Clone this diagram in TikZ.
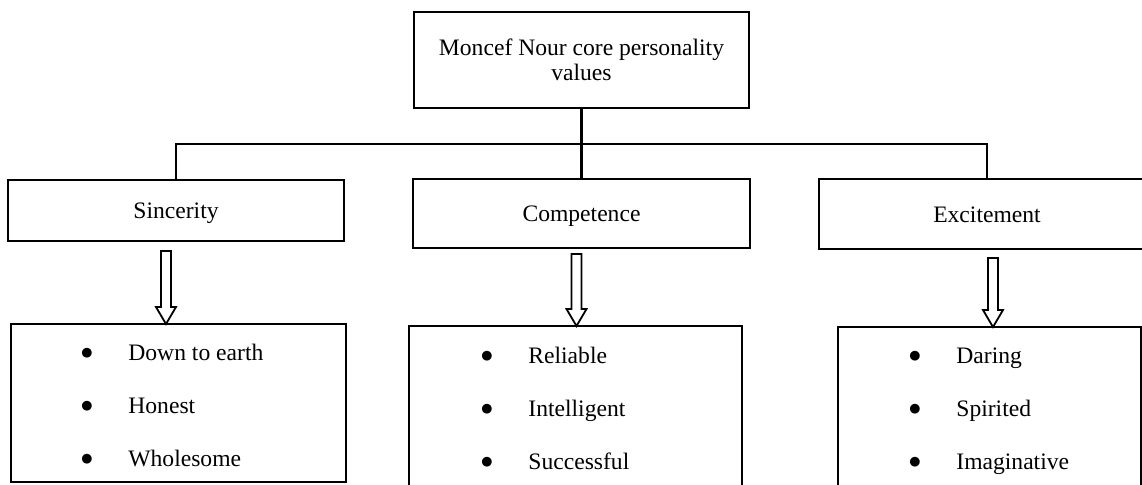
\documentclass[tikz,border=0pt]{standalone}
\usepackage{fontspec}
\setmainfont{Liberation Serif}
\newfontfamily\symfont{DejaVu Sans}
\usetikzlibrary{calc}
\newcommand\blockarrow[2]{%
  \draw[blockarr] ($(#1)+(-5,0)$) -- ($(#2)+(-5,-17)$) -- ($(#2)+(-10,-17)$)
    -- (#2) -- ($(#2)+(10,-17)$) -- ($(#2)+(5,-17)$) -- ($(#1)+(5,0)$) -- cycle;}
\newcommand\listdot{\raisebox{1.6pt}{\symfont\fontsize{6.4}{7}\selectfont ●}}
\newcommand\bulletlist[3]{%
  \begin{tabular}[t]{@{}p{23.5pt}@{}l@{}}
    \listdot & #1\\[14pt]
    \listdot & #2\\[14pt]
    \listdot & #3
  \end{tabular}}
\begin{document}
\begin{tikzpicture}[x=0.5pt,y=-0.5pt,
  txt/.style={font=\fontsize{11.8}{12.5}\selectfont},
  box/.style={draw, line width=1.1pt, inner sep=0pt, outer sep=0pt, align=center, txt},
  link/.style={line width=1.1pt},
  blockarr/.style={draw, line width=0.9pt, fill=white, line join=miter},
  itemlist/.style={anchor=base west, inner sep=0pt, txt},
  label/.style={anchor=base, inner sep=0pt, txt}]
\clip (0,0) rectangle (1142,484);

% root
\node[box, minimum width=167.5pt, minimum height=48pt] (root) at (581.5,60)
  {Moncef Nour core personality\\values};

% dimensions
\node[box, minimum width=168pt, minimum height=30.5pt] (sinc) at (176,210.5) {};
\node[box, minimum width=168.5pt, minimum height=34.5pt] (comp) at (581.5,213.5) {};
\node[box, minimum width=168pt, minimum height=35pt] (exc) at (987,214) {};
\node[label] (sincT) at (176,218) {Sincerity};
\node[label] (compT) at (581.5,221) {Competence};
\node[label] (excT) at (987,222) {Excitement};

% trait boxes
\node[box, minimum width=167.5pt, minimum height=79pt] (traitsA) at (178.5,403) {};
\node[box, minimum width=166.5pt, minimum height=82pt] (traitsB) at (575.5,408) {};
\node[box, minimum width=151.5pt, minimum height=81.5pt] (traitsC) at (989.5,408.5) {};

\node[itemlist] (listA) at (81,360) {\bulletlist{Down to earth}{Honest}{Wholesome}};
\node[itemlist] (listB) at (481,363) {\bulletlist{Reliable}{Intelligent}{Successful}};
\node[itemlist] (listC) at (909,363) {\bulletlist{Daring}{Spirited}{Imaginative}};

% tree connectors
\coordinate (bus) at (581.5,144);
\draw[link] (root.south) -- (comp.north);
\draw[link] (sinc.north) |- (bus) -| (exc.north);

% block arrows
\coordinate (a1) at (166,251);
\coordinate (a2) at (576.5,254);
\coordinate (a3) at (993,258);
\coordinate (p1) at (a1 |- traitsA.north);
\coordinate (p2) at (a2 |- traitsB.north);
\coordinate (p3) at (a3 |- traitsC.north);
\blockarrow{a1}{p1}
\blockarrow{a2}{p2}
\blockarrow{a3}{p3}
\end{tikzpicture}
\end{document}
